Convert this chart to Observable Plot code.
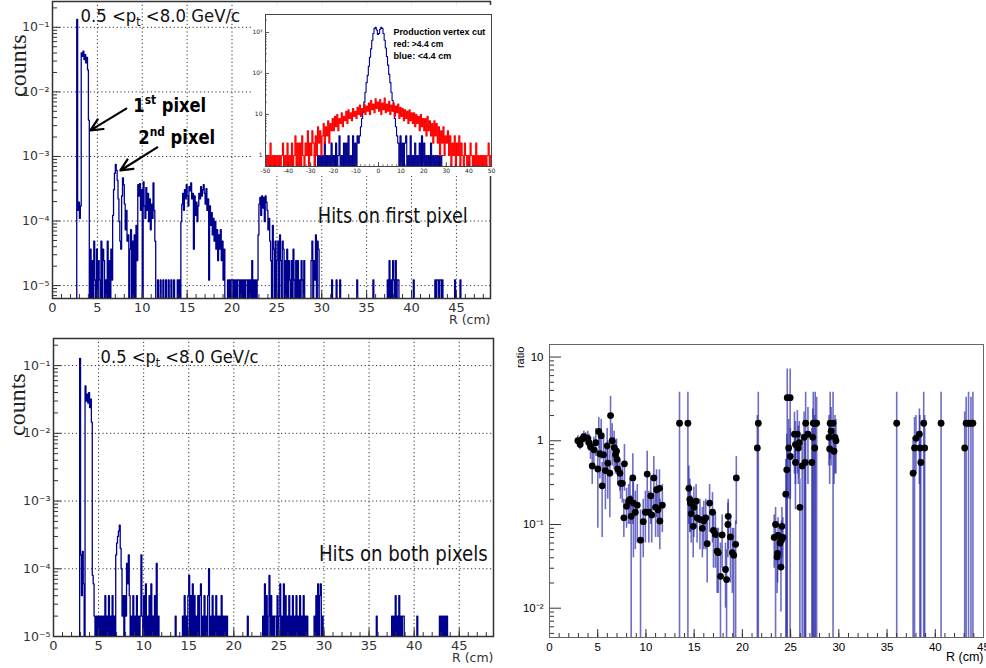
<!DOCTYPE html>
<html><head><meta charset="utf-8">
<script src="https://cdn.jsdelivr.net/npm/d3@7"></script>
<script src="https://cdn.jsdelivr.net/npm/@observablehq/plot@0.6"></script>
<style>
body{margin:0;background:#fff;}
#wrap{position:relative;width:986px;height:668px;overflow:hidden;background:#fff;}
#wrap > svg{position:absolute;}
</style></head><body><div id="wrap"></div>
<script>
// ================= DATA =================
const binWidth = 0.1;          // cm per bin, main histograms
const rMax = 48.8;
// top panel: hits on first pixel  (value = count * topNorm)
const topNorm = 1.22e-5;
const topSegments = [
  [2.7, [10900,12,16,9,14,3300,2900,3500,2600,3100,2300,2800,1800,300,0]],
  [4.2, [3,0,2,0,4,1,0,3,0,2,1,0,4,0,3,2,0,1,0,4,0,2,0,3,1]],
  [6.7, [10,25,45,62,50,35,18,8,4,3,20,38,30,15,6,12,4]],
  [8.4, [5,0,3,6,0,4,0,5,0,7,2]],
  [9.5, [30,20,31,12,25,0,33,14,9,27,12,22,8,18,6,15,9,32,12,4,0]],
  [11.7,[1]],[12.0,[1]],[12.3,[1]],[12.6,[1]],[12.9,[1]],[13.2,[1]],[13.5,[1]],[13.9,[1]],[14.1,[1]],
  [14.3, [8,15,22,12,25,18,30,20,14,28,24,32,18,22,3,20,10,16,8,14,22,18,28,20,25,30,22,15,26,12,18,1,14,7,11,5,9,4,8,3,6,2,5,3,6,2,4,1,3]],
  [19.5, [1,0,1,0,1,1,0,1,0,1,0,1,1,0,1,0,1,0,1,0,1,1,0,1,0,1,0,2,0,1,0,1,0,1]],
  [22.9, [5,15,19,10,20,13,19,8,20,16,12,6,9,4]],
  [24.3, [2,0,7,3,0,4,0,2,4,0,5,2,0,4,3,0]],
  [25.9, [2,0,3,0,2,1,0,2,0,3,1,0,2,0,2,0,1,0,2,1,0,2]],
  [28.8, [2,4,0,2,1,5,0,4,3,0]],
  [31.1,[1]],[31.6,[1]],[32.0,[1]],[33.9,[1]],[35.7,[1]],
  [37.3, [1,0,2,0,1,0,2,1,0,2,0,1,1]],
  [40.2,[1]],[42.6,[1]],[42.8,[1,1,0,1,1,0,1]],[44.8,[1]],[45.4,[1]]
];
// bottom panel: hits on both pixels (value = count * botNorm)
const botNorm = 2.0e-5;
const botSegments = [
  [2.9, [6400,8,2,9,3,0,2500,1500,1900,1400,2000,1200,1600,730,4,3]],
  [4.5, [1,0,1,0,1,0,1,0,1,0,1,0,2,0,1,0,2,0,1,0,2,0,1,0]],
  [6.9, [8,12,15,18,22,10,5,1,2,0,2,1,6,3,8]],
  [8.4, [2,0,1,0,2,0,1,0,2,0,1,0,1]],
  [9.7, [8]],
  [9.8, [1,0,2,0,3,0,1,0,2,0,3,0,1,0,2,0,6,0,1]],
  [13.5,[1]],
  [14.3, [1,0,2,0,1,0,2,4,0,2,0,3,0,2,0,1,0,2,0,2,3,0,1,0,2,0,1,0,2,5,0,1,0,2,0,1,0,2,0,1,0,1,0,2,0,1,0,1,0,1,0]],
  [21.5,[1]],
  [23.2, [1,0,3,0,2,0,1,4,0,2,0,1,0,1]],
  [24.6, [1,0,2,0,1,3,0,1,0,3,0,2,0,1,0,2,0,1,0,2,0,1,0,2,0,1,0,2,0,1,0,2,0,1,0,1]],
  [28.9, [1,0,2,0,3,0,2,3,0,1,0]],
  [35.8,[1]],
  [37.5, [1,0,1,0,2,0,1,0,2,0,1,0,1,1]],
  [40.3,[1]],
  [42.8, [1,0,1,0,1,0,1,0,1]]
];
// inset: production vertex distribution, 0.5 bins
const insetBinWidth = 0.5;
const insetBlueStart = -28.5;
const insetBlue = [
  1,0,0,1,0,1,0,1,0,2,0,1,0,1,0,2,0,1,0,2,0,1,3,0,1,0,2,0,2,0,3,0,1,0,3,0,2,0,3,2,
  3,5,8,12,20,35,60,90,150,250,400,650,950,1250,1350,1150,900,950,1200,1350,1250,950,650,420,260,160,95,60,35,22,12,8,5,3,
  2,0,3,0,2,0,2,3,0,1,0,3,0,1,0,2,0,1,0,2,0,3,0,2,0,1,0,1,0,2,0,1,0,1,0,1,0,1,0,1];
const insetRedStart = -50;
const insetRed = [
  1,0,1,0,2,0,1,0,1,0, 1,0,1,0,1,2,0,1,0,2, 0,1,0,2,0,1,3,0,2,0, 2,0,3,1,0,2,1,4,0,2,
  1,4,2,0,3,1,5,2,4,1, 3,6,2,5,3,7,2,6,4,8, 4,9,5,10,4,8,6,11,5,9, 7,12,6,13,8,11,7,14,9,12,
  8,15,10,17,9,14,11,18,10,16, 12,19,10,22,13,18,11,24,14,20, 12,23,10,19,13,25,11,18,12,21, 10,17,12,19,9,16,11,18,8,15,
  9,14,7,13,8,12,6,13,7,11, 6,11,5,10,6,9,4,10,5,8, 4,8,3,9,4,7,3,6,2,7, 3,6,2,5,1,4,2,5,1,3,
  2,4,1,3,0,2,1,3,0,2, 1,3,0,2,1,0,2,1,0,1, 0,2,1,0,1,0,2,0,1,0, 1,0,1,0,1,0,1,2,0,1];
// ratio panel: [R, ratio, low, high]  (low 0 = error bar reaches below axis)
const ratioPoints = [
  [2.94,1.0,0.85,1.15],[3.18,0.9,0.78,1.05],[3.4,1.05,0.9,1.2],[3.56,1.12,0.95,1.3],[3.75,1.08,0.9,1.25],
  [3.97,1.07,0.85,1.3],[4.1,0.95,0.75,1.2],[4.25,0.85,0.6,1.1],[4.43,0.5,0.3,0.75],[4.6,0.78,0.5,1.1],
  [4.8,0.95,0.65,1.4],[5.01,0.46,0.09,0.8],[5.11,1.29,0.8,1.9],[5.22,0.7,0.35,1.1],[5.36,1.15,0.6,1.8],
  [5.46,0.29,0.07,0.55],[5.6,0.68,0.3,1.2],[5.8,0.44,0.15,0.8],[5.98,0.87,0.4,1.4],[6.04,0.54,0.2,1.0],
  [6.26,0.41,0.12,0.8],[6.33,2.0,0.9,3.4],[6.5,1.0,0.5,1.6],[6.7,0.83,0.45,1.3],[6.85,0.68,0.4,1.0],
  [6.95,0.75,0.5,1.05],[7.0,0.6,0.4,0.85],[7.08,0.46,0.3,0.65],[7.3,0.41,0.25,0.6],[7.37,0.31,0.2,0.45],
  [7.55,0.31,0.18,0.5],[7.77,0.53,0.25,0.9],
  [7.71,0.12,0.07,0.2],[7.99,0.165,0.09,0.27],[8.2,0.19,0.1,0.3],[8.35,0.2,0.1,0.35],[8.47,0.125,0,0.22],
  [8.64,0.36,0.1,0.7],[8.7,0.18,0.04,0.32],[8.9,0.14,0.05,0.25],[9.1,0.17,0.06,0.3],[9.44,0.065,0,0.15],
  [9.72,0.108,0.04,0.2],[9.94,0.14,0.06,0.25],[10.13,0.4,0.15,0.75],[10.3,0.14,0.06,0.25],[10.5,0.22,0.1,0.38],
  [10.6,0.13,0.06,0.22],[10.82,0.36,0.15,0.65],[11.0,0.16,0.07,0.28],[11.1,0.26,0.12,0.45],[11.25,0.15,0.07,0.26],
  [11.4,0.27,0.12,0.45],[11.44,0.11,0.05,0.2],[11.7,0.17,0.08,0.3],
  [13.48,1.62,0,3.8],[14.35,1.62,0,3.8],
  [14.45,0.27,0.1,0.5],[14.55,0.2,0.08,0.35],[14.6,0.18,0.08,0.3],[14.7,0.135,0.06,0.22],[14.9,0.095,0.04,0.17],
  [14.97,0.16,0.07,0.28],[15.2,0.19,0.09,0.3],[15.3,0.12,0.06,0.2],[15.6,0.115,0.05,0.2],[15.85,0.09,0.04,0.16],
  [16.0,0.11,0.05,0.19],[16.2,0.12,0.05,0.2],[16.35,0.059,0.02,0.12],[16.6,0.18,0.08,0.3],[16.9,0.14,0.06,0.24],
  [17.0,0.085,0.03,0.15],[17.2,0.076,0.03,0.14],[17.38,0.048,0.015,0.09],[17.5,0.046,0.015,0.09],[17.73,0.024,0,0.06],
  [17.9,0.075,0.03,0.13],[18.25,0.029,0.01,0.06],[18.36,0.022,0,0.05],[18.5,0.1,0.04,0.18],[18.53,0.125,0.05,0.2],
  [18.76,0.071,0.02,0.13],[18.96,0.046,0.015,0.09],[19.1,0.043,0,0.09],[19.3,0.058,0,0.11],[19.37,0.36,0.1,0.65],
  [21.55,0.82,0,2.0],[21.65,1.62,0,3.8],
  [23.3,0.07,0.03,0.13],[23.44,0.1,0,0.16],[23.6,0.041,0.015,0.08],[23.65,0.045,0.02,0.08],[23.7,0.074,0.03,0.12],
  [23.9,0.06,0.03,0.1],[24.0,0.031,0.009,0.06],[24.05,0.065,0.03,0.11],[24.1,0.095,0.04,0.16],[24.2,0.07,0.03,0.12],
  [24.5,0.23,0,0.6],[24.6,0.45,0,1.2],[24.65,3.27,0,7.2],[24.95,3.27,0,7.2],[24.8,0.82,0.2,1.8],
  [24.97,0.65,0.2,1.4],[25.4,1.2,0.4,2.2],[25.5,0.9,0.3,1.7],[25.5,0.55,0.15,1.1],[25.7,1.2,0.4,2.3],
  [25.8,0.82,0.3,1.5],[25.9,0.95,0.35,1.7],[25.96,0.16,0,0.35],[26.2,0.5,0,1.2],[26.4,1.1,0,2.2],
  [26.5,0.55,0,1.3],[26.56,1.62,0,3.8],[26.8,1.2,0.3,2.5],[27.2,0.55,0,1.4],[27.3,1.1,0,2.4],
  [27.35,1.62,0,3.8],[27.5,0.82,0,2.0],[27.55,1.62,0,3.8],[27.7,1.62,0,3.3],
  [28.98,1.1,0.5,2.0],[29.05,0.8,0.3,1.5],[29.1,1.62,0.6,3.8],[29.2,1.3,0.5,2.5],[29.4,1.62,0,3.8],
  [29.5,0.75,0.3,1.4],[29.6,1.1,0.4,2.0],[29.7,1.0,0.4,1.8],
  [36.0,1.62,0,3.8],[37.7,0.41,0,1.1],[37.85,0.82,0,1.9],[38.0,1.07,0.4,2.0],[38.35,1.2,0.3,2.4],
  [38.4,0.82,0,2.0],[38.5,0.55,0,1.3],[38.8,1.62,0,3.8],[38.9,0.82,0,2.0],[40.6,1.62,0,3.8],
  [43.05,0.82,0,2.2],[43.2,1.62,0,3.3],[43.45,1.62,0,3.8],[43.7,1.62,0,3.3],[43.9,1.62,0,3.8]
];
// ticks / labels
const majorR = [0,5,10,15,20,25,30,35,40,45];
const gridR = [5,10,15,20,25,30,35,40,45];
const minorR = d3.range(1, 49, 1);
const ratioMinorR = d3.range(1, 45, 1);
const histDecades = [1e-5,1e-4,1e-3,1e-2,1e-1];
const ratioDecades = [0.01,0.1,1,10];
const insetXTicks = [-50,-40,-30,-20,-10,0,10,20,30,40,50];
const insetDecades = [1,10,100,1000];
const xLabel = "R (cm)";
const ptText = "0.5 <pt <8.0 GeV/c";

// ================= HELPERS =================
const blue = "#00008f";
const ns = "http://www.w3.org/2000/svg";
const sup = {"-":"⁻","0":"⁰","1":"¹","2":"²","3":"³","4":"⁴","5":"⁵","6":"⁶","7":"⁷","8":"⁸","9":"⁹"};
const pow10 = d => { const e = Math.round(Math.log10(d)); return "10" + String(e).split("").map(c => sup[c]).join(""); };
const pow10b = d => { const e = Math.round(Math.log10(d)); return e === 0 ? "1" : e === 1 ? "10" : pow10(d); };
const minorLog = (lo, hi) => { const out = []; for (let e = lo; e <= hi; e++) for (let m = 2; m <= 9; m++) out.push(m * 10 ** e); return out; };

function expand(segs, x0, bw, n) {
  const arr = new Array(n).fill(0);
  for (const [start, vals] of segs) {
    const i0 = Math.round((start - x0) / bw);
    vals.forEach((v, j) => { const i = i0 + j; if (i >= 0 && i < n) arr[i] = v; });
  }
  return arr;
}
function stepPoints(counts, x0, bw, norm, floor) {
  const pts = counts.map((c, i) => ({x: x0 + i * bw, y: c > 0 ? c * norm : floor}));
  pts.push({x: x0 + counts.length * bw, y: pts[pts.length - 1].y});
  return pts;
}
function findTexts(svg, content) { return [...svg.querySelectorAll("text")].filter(t => t.textContent === content); }
function richify(svg, content, parts) {
  for (const t of findTexts(svg, content)) {
    while (t.firstChild) t.removeChild(t.firstChild);
    for (const p of parts) {
      const ts = document.createElementNS(ns, "tspan");
      ts.textContent = p.t;
      if (p.dy) ts.setAttribute("dy", p.dy);
      if (p.fs) ts.setAttribute("font-size", p.fs);
      t.appendChild(ts);
    }
  }
}
// squeeze a (rendered) text horizontally to a target width
function fit(svg, content, len) {
  for (const t of findTexts(svg, content)) {
    const w = t.getBBox().width;
    if (!w) continue;
    const s = len / w;
    const tr = t.getAttribute("transform");
    if (tr) t.setAttribute("transform", tr + ` scale(${s},1)`);
    else { const x = +t.getAttribute("x") || 0; t.setAttribute("transform", `translate(${x},0) scale(${s},1) translate(${-x},0)`); }
  }
}
const ptParts = [{t:"0.5 <p"},{t:"t", dy:"4", fs:"12"},{t:" <8.0 GeV/c", dy:"-4"}];

const wrap = document.getElementById("wrap");
function place(svg, left, top) { svg.style.left = left + "px"; svg.style.top = top + "px"; svg.style.position = "absolute"; wrap.appendChild(svg); }

function histPanel(o) {
  const nb = Math.round(rMax / binWidth);
  const pts = stepPoints(expand(o.segments, 0, binWidth, nb), 0, binWidth, o.norm, 1e-8);
  const fh = o.height - o.marginTop - o.marginBottom;
  const fw = o.width - o.marginLeft - o.marginRight;
  const lo = Math.round(Math.log10(o.yDomain[0])) - 1, hi = Math.round(Math.log10(o.yDomain[1]));
  const minors = minorLog(lo, hi).filter(d => d > o.yDomain[0] && d < o.yDomain[1]);
  const svg = Plot.plot({
    width: o.width, height: o.height,
    marginLeft: o.marginLeft, marginRight: o.marginRight, marginTop: o.marginTop, marginBottom: o.marginBottom,
    x: {domain: [0, rMax]},
    y: {type: "log", domain: o.yDomain},
    style: {background: "transparent", fontFamily: "DejaVu Sans"},
    marks: [
      Plot.ruleX(gridR, {x: d => d, stroke: "#333", strokeDasharray: "1.2,2.6", strokeWidth: 1}),
      Plot.ruleY(histDecades, {y: d => d, stroke: "#333", strokeDasharray: "1.2,2.6", strokeWidth: 1}),
      Plot.lineY(pts, {x: "x", y: "y", curve: "step-after", stroke: blue, strokeWidth: 1.3, clip: true}),
      Plot.tickX(minorR, {x: d => d, insetTop: fh - 4, stroke: "#333"}),
      Plot.tickX(majorR, {x: d => d, insetTop: fh - 8, stroke: "#333"}),
      Plot.tickY(minors, {y: d => d, insetRight: fw - 5, stroke: "#333"}),
      Plot.tickY(histDecades, {y: d => d, insetRight: fw - 8, stroke: "#333"}),
      Plot.axisX({ticks: majorR, tickSize: 0, tickPadding: 4, fontSize: 13, color: "#333", label: null, tickFormat: d => String(d)}),
      Plot.axisY({ticks: histDecades, tickSize: 0, tickPadding: 3, fontSize: 12.5, color: "#333", label: null, tickFormat: pow10}),
      Plot.frame({stroke: "#333", strokeWidth: 1.5}),
      Plot.text([xLabel], {frameAnchor: "bottom-right", textAnchor: "end", lineAnchor: "bottom", dy: 25, fontSize: 12.5, fill: "#333"}),
      Plot.text(["counts"], {x: o.countsX, y: o.countsY, rotate: -90, textAnchor: "middle", lineAnchor: "bottom", fontFamily: "Liberation Serif", fontSize: 24, fill: "#222"}),
      Plot.text([ptText], {x: o.ptX, y: o.ptY, textAnchor: "start", lineAnchor: "bottom", fontSize: 18, fill: "#111"}),
      Plot.text([o.hitsText], {x: o.hitsX, y: o.hitsY, textAnchor: "start", lineAnchor: "bottom", fontSize: 22, fill: "#111"}),
      ...(o.extra || [])
    ]
  });
  place(svg, o.left, o.top);
  richify(svg, ptText, ptParts);
  fit(svg, "0.5 <pt <8.0 GeV/c", o.ptLen);
  fit(svg, o.hitsText, o.hitsLen);
  return svg;
}

// ---------- top-left ----------
const annot = [
  {t: "1st pixel", x: 9.0, y: 4.87e-3, x1: 8.22, y1: 5.5e-3, x2: 4.22, y2: 2.53e-3},
  {t: "2nd pixel", x: 9.56, y: 1.58e-3, x1: 11.67, y1: 1.38e-3, x2: 7.56, y2: 6.07e-4}
];
const topSvg = histPanel({
  left: 0, top: 0,
  segments: topSegments, norm: topNorm,
  width: 500, height: 330, marginLeft: 52, marginRight: 10, marginTop: 1, marginBottom: 32,
  yDomain: [10 ** -5.2, 10 ** -0.6],
  countsX: -3.0, countsY: 0.0255,
  ptX: 3.11, ptY: 0.1196, ptLen: 160,
  hitsText: "Hits on first pixel", hitsX: 29.56, hitsY: 9.25e-5, hitsLen: 150,
  extra: [
    Plot.arrow(annot, {x1: "x1", y1: "y1", x2: "x2", y2: "y2", stroke: "#000", strokeWidth: 2.2, headLength: 9, headAngle: 50}),
    Plot.text(annot, {x: "x", y: "y", text: "t", textAnchor: "start", lineAnchor: "bottom", fontSize: 20, fontWeight: "bold", fill: "#000"})
  ]
});
richify(topSvg, "1st pixel", [{t:"1"},{t:"st", dy:"-8", fs:"13"},{t:" pixel", dy:"8"}]);
richify(topSvg, "2nd pixel", [{t:"2"},{t:"nd", dy:"-8", fs:"13"},{t:" pixel", dy:"8"}]);
fit(topSvg, "1st pixel", 73);
fit(topSvg, "2nd pixel", 77);

// ---------- inset ----------
{
  const bluePts = stepPoints(insetBlue, insetBlueStart, insetBinWidth, 1, 1e-3);
  const redPts = stepPoints(insetRed, insetRedStart, insetBinWidth, 1, 1e-3);
  const yDom = [10 ** -0.27, 10 ** 3.44];
  const fh = 171 - 9 - 10, fw = 240 - 13 - 1;
  const svg = Plot.plot({
    width: 240, height: 171, marginLeft: 13, marginRight: 1, marginTop: 9, marginBottom: 10,
    x: {domain: [-50, 50]}, y: {type: "log", domain: yDom},
    style: {background: "white", fontFamily: "DejaVu Sans", overflow: "visible"},
    marks: [
      Plot.lineY(bluePts, {x: "x", y: "y", curve: "step-after", stroke: blue, strokeWidth: 1.1, clip: true}),
      Plot.lineY(redPts, {x: "x", y: "y", curve: "step-after", stroke: "#ff0000", strokeWidth: 1.1, clip: true}),
      Plot.tickX(d3.range(-50, 51, 2), {x: d => d, insetTop: fh - 2, stroke: "#333", strokeWidth: 0.6}),
      Plot.tickX(insetXTicks, {x: d => d, insetTop: fh - 4, stroke: "#333", strokeWidth: 0.8}),
      Plot.tickY(minorLog(-1, 3).filter(d => d > yDom[0] && d < yDom[1]), {y: d => d, insetRight: fw - 2, stroke: "#333", strokeWidth: 0.6}),
      Plot.tickY(insetDecades, {y: d => d, insetRight: fw - 4, stroke: "#333", strokeWidth: 0.8}),
      Plot.axisX({ticks: insetXTicks, tickSize: 0, tickPadding: 2, fontSize: 6, color: "#222", label: null, tickFormat: d => String(d)}),
      Plot.axisY({ticks: insetDecades, tickSize: 0, tickPadding: 3, fontSize: 6, color: "#222", label: null, tickFormat: pow10b}),
      Plot.frame({stroke: "#444", strokeWidth: 1}),
      Plot.text(["Production vertex cut"], {x: 6.6, y: 850, textAnchor: "start", lineAnchor: "bottom", fontSize: 9, fontWeight: "bold", fontFamily: "Liberation Sans", fill: "#000"}),
      Plot.text(["red: >4.4 cm"], {x: 6.6, y: 437, textAnchor: "start", lineAnchor: "bottom", fontSize: 9, fontWeight: "bold", fontFamily: "Liberation Sans", fill: "#000"}),
      Plot.text(["blue: <4.4 cm"], {x: 6.6, y: 229, textAnchor: "start", lineAnchor: "bottom", fontSize: 9, fontWeight: "bold", fontFamily: "Liberation Sans", fill: "#000"})
    ]
  });
  svg.style.overflow = "visible";
  place(svg, 252, 5);
  fit(svg, "Production vertex cut", 92);
  fit(svg, "red: >4.4 cm", 50);
  fit(svg, "blue: <4.4 cm", 58);
}

// ---------- bottom-left ----------
histPanel({
  left: 0, top: 334,
  segments: botSegments, norm: botNorm,
  width: 500, height: 334, marginLeft: 53, marginRight: 7, marginTop: 4, marginBottom: 32,
  yDomain: [1e-5, 10 ** -0.6],
  countsX: -3.11, countsY: 0.0265,
  ptX: 5.22, ptY: 0.1107, ptLen: 158,
  hitsText: "Hits on both pixels", hitsX: 29.44, hitsY: 1.29e-4, hitsLen: 169
});

// ---------- bottom-right: ratio ----------
{
  const yDom = [10 ** -2.35, 10 ** 1.15];
  const fh = 334 - 10 - 31, fw = 486 - 49 - 3;
  const pts = ratioPoints.map(([r, v, lo, hi]) => ({r, v, lo: Math.max(lo, 1e-3), hi}));
  const svg = Plot.plot({
    width: 486, height: 334, marginLeft: 49, marginRight: 3, marginTop: 10, marginBottom: 31,
    x: {domain: [0, 45]}, y: {type: "log", domain: yDom},
    style: {background: "transparent", fontFamily: "Liberation Sans"},
    marks: [
      Plot.ruleX(pts, {x: "r", y1: "lo", y2: "hi", stroke: "#2020a8", strokeOpacity: 0.65, strokeWidth: 1.6, clip: true}),
      Plot.dot(pts, {x: "r", y: "v", r: 3.4, fill: "#000", stroke: "none", clip: true}),
      Plot.tickX(ratioMinorR, {x: d => d, insetTop: fh - 4, stroke: "#333"}),
      Plot.tickX(majorR, {x: d => d, insetTop: fh - 8, stroke: "#333"}),
      Plot.tickY(minorLog(-3, 1).filter(d => d > yDom[0] && d < yDom[1]), {y: d => d, insetRight: fw - 5, stroke: "#333"}),
      Plot.tickY(ratioDecades, {y: d => d, insetRight: fw - 12, stroke: "#333"}),
      Plot.axisX({ticks: majorR, tickSize: 0, tickPadding: 5, fontSize: 11.5, color: "#000", label: null, tickFormat: d => String(d)}),
      Plot.axisY({ticks: ratioDecades, tickSize: 0, tickPadding: 6, fontSize: 11.5, color: "#000", label: null, tickFormat: pow10b}),
      Plot.frame({stroke: "#666", strokeWidth: 1}),
      Plot.text([xLabel], {frameAnchor: "bottom-right", textAnchor: "end", lineAnchor: "bottom", dy: 23, fontSize: 12.5, fill: "#000"}),
      Plot.text(["ratio"], {x: -2.6, y: 13.3, rotate: -90, textAnchor: "end", lineAnchor: "bottom", fontSize: 11, fill: "#000"})
    ]
  });
  place(svg, 500, 334);
}
</script></body></html>
